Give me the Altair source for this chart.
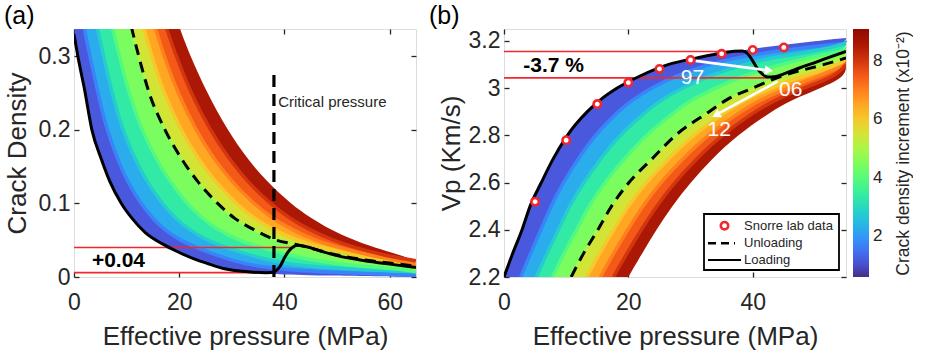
import altair as alt
import pandas as pd

FONT = "Liberation Sans"
INK = "#262626"
RED = "#f0282d"

# ---------------- colour values of the model-curve family (x10^-2) ----------------
CURVE_V = [0.6, 1.7, 2.8, 3.9, 5.0, 6.0, 7.0, 8.0, 9.1]
BAND_V = [1.15, 2.25, 3.35, 4.45, 5.5, 6.5, 7.5, 8.55]
CBAR_TICKS = [2, 4, 6, 8]

# ---------------- panel (a): crack density levels and curve pressures (MPa) ----------------
A_LEVELS = [0.34, 0.3, 0.25, 0.2, 0.16, 0.13, 0.1, 0.08, 0.065, 0.05, 0.04, 0.03,
            0.022, 0.016, 0.011, 0.007, 0.004, 0.002, 0.0]
A_P_V06 = [0, 0.7, 2.1, 3.4, 5.2, 6.8, 9.0, 11.0, 12.8, 15.5, 18.2, 21.0, 24.0, 26.3, 28.6, 32.5, 38, 46, 65]
A_P_V17 = [1.9, 3.0, 4.55, 6.2, 8.3, 10.1, 12.7, 14.9, 17.0, 20.1, 23.4, 26.8, 30.5, 33.7, 39, 46, 60, 65, 65]
A_P_V28 = [4.4, 5.6, 7.2, 9.2, 11.6, 13.8, 16.7, 19.2, 21.7, 25.2, 29.0, 33.2, 37.7, 41.9, 51, 65, 65, 65, 65]
A_P_V39 = [7.3, 8.6, 10.4, 12.85, 15.6, 18.2, 21.4, 24.3, 27.2, 31.1, 35.7, 40.7, 46.1, 51.6, 62, 65, 65, 65, 65]
A_P_V50 = [10.9, 12.3, 14.3, 17.3, 20.5, 23.5, 27.3, 30.5, 34.0, 38.5, 44.0, 50.0, 56.5, 63.5, 65, 65, 65, 65, 65]
A_P_V60 = [13.2, 14.75, 17.05, 20.25, 23.6, 26.8, 30.75, 34.1, 37.65, 42.2, 47.25, 53.0, 59.5, 65, 65, 65, 65, 65, 65]
A_P_V70 = [15.4, 17.1, 19.7, 23.1, 26.6, 29.9, 34.1, 37.6, 41.2, 45.7, 50.4, 55.9, 62.0, 65, 65, 65, 65, 65, 65]
A_P_V80 = [17.5, 19.4, 22.2, 25.8, 29.5, 32.9, 37.2, 40.9, 44.5, 49.1, 53.4, 58.6, 65, 65, 65, 65, 65, 65, 65]
A_P_V91 = [20.0, 22.1, 25.3, 29.1, 33.0, 36.6, 41.1, 45.0, 48.6, 53.2, 57.0, 62.0, 65, 65, 65, 65, 65, 65, 65]

A_LOAD_P = [0, 1, 2, 3.4, 5.2, 6.8, 9, 11, 13.6, 16.8, 19.5, 22.7, 25.5, 28.2, 31.5, 34, 36.5, 37.5,
            38.3, 39.2, 40, 40.8, 41.7, 42.5, 44, 47, 50, 55, 60, 65]
A_LOAD_C = [0.33, 0.29, 0.255, 0.2, 0.16, 0.13, 0.1, 0.08, 0.06, 0.045, 0.035, 0.025, 0.018, 0.012,
            0.008, 0.0065, 0.0058, 0.006, 0.008, 0.015, 0.026, 0.035, 0.041, 0.043, 0.0415, 0.035,
            0.029, 0.0225, 0.0175, 0.013]
A_UNLOAD_P = [10.9, 12.3, 14.3, 17.3, 20.5, 23.5, 27.3, 30.5, 34, 38.5, 42, 44, 50, 56.5, 60, 65]
A_UNLOAD_C = [0.34, 0.3, 0.25, 0.2, 0.16, 0.13, 0.1, 0.08, 0.065, 0.05, 0.0445, 0.041, 0.03, 0.022, 0.019, 0.0145]
A_RED_C = [0.04, 0.0059]
A_RED_P_END = [42, 36.6]
CRIT_P = [38]
CRIT_TOP = [0.28]

# ---------------- panel (b): Vp levels and curve pressures (MPa) ----------------
B_LEVELS = [2.2, 2.3, 2.4, 2.5, 2.6, 2.7, 2.8, 2.9, 2.95, 3.0, 3.05, 3.1, 3.13, 3.16, 3.19, 3.212]
B_P_V06 = [0, 1.4, 2.9, 4.2, 6.0, 7.9, 10.2, 13.4, 15.5, 18.2, 21.8, 26.5, 31.5, 38, 47, 55]
B_P_V17 = [2.7, 4.25, 5.95, 7.5, 9.5, 11.9, 14.55, 18.3, 20.6, 23.65, 27.5, 32.75, 37.6, 44.5, 55, 55]
B_P_V28 = [5.2, 6.9, 8.75, 10.5, 12.8, 15.5, 18.55, 22.8, 25.25, 28.7, 32.75, 38.5, 43.3, 51, 55, 55]
B_P_V39 = [7.8, 9.6, 11.7, 13.6, 16.15, 19.35, 22.7, 27.5, 30.1, 33.9, 38.2, 44.5, 49.1, 55, 55, 55]
B_P_V50 = [10.8, 12.8, 15.1, 17.3, 20.1, 23.8, 27.6, 33.0, 35.8, 40.0, 44.6, 51.5, 55, 55, 55, 55]
B_P_V60 = [13.3, 15.35, 17.65, 19.9, 22.8, 26.4, 30.3, 35.7, 38.65, 43.0, 47.8, 54.5, 55, 55, 55, 55]
B_P_V70 = [15.5, 17.6, 19.9, 22.25, 25.15, 28.7, 32.65, 38.05, 41.15, 45.6, 50.7, 55, 55, 55, 55, 55]
B_P_V80 = [17.6, 19.75, 22.05, 24.5, 27.4, 30.9, 34.9, 40.3, 43.6, 48.1, 53.4, 55, 55, 55, 55, 55]
B_P_V91 = [20.0, 22.2, 24.5, 27.0, 30.0, 33.4, 37.5, 42.9, 46.3, 51.0, 55, 55, 55, 55, 55, 55]

B_LOAD_P = [0, 1.4, 2.9, 4.2, 6.0, 7.9, 10.2, 13.4, 15.5, 18.2, 21.8, 26.5, 31.5, 35, 37, 38.3, 39.2,
            40.0, 40.8, 41.6, 42.4, 43.5, 45, 47.5, 50, 52.5, 55]
B_LOAD_VP = [2.2, 2.3, 2.4, 2.5, 2.6, 2.7, 2.8, 2.9, 2.95, 3.0, 3.05, 3.1, 3.13, 3.148, 3.156, 3.157,
             3.145, 3.115, 3.08, 3.058, 3.047, 3.048, 3.06, 3.085, 3.108, 3.132, 3.155]
B_UNLOAD_P = [10.8, 12.8, 15.1, 17.3, 20.1, 23.8, 27.6, 33.0, 35.8, 40.0, 44.6, 51.5, 55]
B_UNLOAD_VP = [2.2, 2.3, 2.4, 2.5, 2.6, 2.7, 2.8, 2.9, 2.95, 3.0, 3.05, 3.1, 3.127]
SNORRE_P = [5, 10, 15, 20, 25, 30, 35, 40, 45]
SNORRE_VP = [2.519, 2.779, 2.932, 3.023, 3.081, 3.119, 3.145, 3.161, 3.172]
B_RED_VP = [3.155, 3.043]
B_RED_P_END = [38.5, 42.4]
ARROW_P0 = [30.8, 44.0]
ARROW_VP0 = [3.115, 3.028]
ARROW_P1 = [42.6, 34.1]
ARROW_VP1 = [3.074, 2.886]
ARROW_ANGLE = [7.5, 151.6]
YEAR_TEXT = ["97", "06", "12"]
YEAR_P = [30.3, 46.1, 34.6]
YEAR_VP = [3.042, 2.992, 2.823]
LEGEND_LABELS = ["Snorre lab data", "Unloading", "Loading"]

W, H = 342, 248
TICK = 5


def bands_frame(levels, curves):
    rows = []
    for k in range(len(curves) - 1):
        for i, lv in enumerate(levels):
            rows.append({"band": k, "lvl": lv, "p_lo": curves[k][i],
                         "p_hi": curves[k + 1][i], "v": BAND_V[k]})
    return pd.DataFrame(rows)


def curves_frame(levels, curves, pmax):
    # inner model curves as lines; stop each one where it leaves the plot on the right
    rows = []
    for k in range(1, len(curves) - 1):
        for i, lv in enumerate(levels):
            rows.append({"curve": k, "lvl": lv, "p": curves[k][i], "v": CURVE_V[k]})
            if curves[k][i] >= pmax:
                break
    return pd.DataFrame(rows)


def axis(orient, values, title=None, labels=True, tpad=8):
    kw = dict(orient=orient, values=values, labels=labels, domain=False, grid=False,
              ticks=True, tickSize=TICK, tickWidth=1.3, tickColor=INK, offset=-TICK,
              labelFont=FONT, labelFontSize=23, labelColor=INK, format="~r", labelFlush=False,
              titleFont=FONT, titleFontSize=26, titleFontWeight="normal", titleColor=INK)
    if orient == "bottom":
        kw.update(labelPadding=14, titlePadding=9)
    if orient == "left":
        kw.update(labelPadding=4, titlePadding=tpad)
    kw["title"] = title
    return alt.Axis(**kw)


TURBO = alt.SchemeParams(name="turbo", extent=[0.04, 1.0])
fill_scale = alt.Scale(scheme=TURBO, domain=[0.6, 9.1])
# the curve strokes use their own scale (a hair wider domain) so they never join the colour bar legend
stroke_scale = alt.Scale(scheme=TURBO, domain=[0.59999, 9.1])

color_enc = alt.Color(
    "v:Q",
    scale=fill_scale,
    legend=alt.Legend(type="gradient", orient="none", legendX=779, legendY=0, padding=0,
                      direction="vertical", gradientLength=248, gradientThickness=16, title=None,
                      values=CBAR_TICKS, labelFont=FONT, labelFontSize=17,
                      labelColor=INK, labelOffset=4, gradientStrokeWidth=0),
)


def panel(levels, curves, xdom, ydom, xvals, yvals, xtitle, ytitle, tpad):
    xs = alt.Scale(domain=xdom, nice=False, zero=False)
    ys = alt.Scale(domain=ydom, nice=False, zero=False)
    bands = alt.Chart(bands_frame(levels, curves)).mark_area(
        orient="horizontal", interpolate="basis", clip=True, opacity=1).encode(
        y=alt.Y("lvl:Q", scale=ys, axis=axis("left", yvals, ytitle, tpad=tpad)),
        x=alt.X("p_lo:Q", stack=None, scale=xs, axis=axis("bottom", xvals, xtitle)),
        x2="p_hi:Q",
        color=color_enc,
        detail="band:N",
    )
    lines = alt.Chart(curves_frame(levels, curves, xdom[1])).mark_line(
        interpolate="basis", clip=True, strokeWidth=3.5).encode(
        y=alt.Y("lvl:Q", scale=ys, axis=None),
        x=alt.X("p:Q", scale=xs, axis=None),
        stroke=alt.Stroke("v:Q", scale=stroke_scale, legend=None),
        detail="curve:N",
        order="lvl:Q",
    )
    frame = alt.Chart(pd.DataFrame({"x": [xdom[0]], "y": [ydom[0]]})).mark_point(opacity=0).encode(
        x=alt.X("x:Q", scale=xs, axis=axis("top", xvals, None, labels=False)),
        y=alt.Y("y:Q", scale=ys, axis=axis("right", yvals, None, labels=False)),
    )
    return bands, lines, frame, xs, ys


one = alt.Data(values=[{"k": 0}])


def panel_tag(txt, dx):
    return alt.Chart(one).mark_text(text=txt, align="left", baseline="middle", font=FONT,
                                    fontSize=25, color="black").encode(
        x=alt.value(dx), y=alt.value(-13))


# ---------------- panel (a) ----------------
A_CURVES = [A_P_V06, A_P_V17, A_P_V28, A_P_V39, A_P_V50, A_P_V60, A_P_V70, A_P_V80, A_P_V91]
a_bands, a_lines, a_frame, axs, ays = panel(
    A_LEVELS, A_CURVES, [0, 65], [0, 0.337], [0, 20, 40, 60], [0, 0.1, 0.2, 0.3],
    "Effective pressure (MPa)", "Crack Density", 8)

a_load = alt.Chart(pd.DataFrame({"p": A_LOAD_P, "c": A_LOAD_C, "i": range(len(A_LOAD_P))})).mark_line(
    color="black", strokeWidth=3, clip=True, interpolate="monotone").encode(
    x=alt.X("p:Q", scale=axs, axis=None), y=alt.Y("c:Q", scale=ays, axis=None), order="i:Q")
a_unload = alt.Chart(pd.DataFrame({"p": A_UNLOAD_P, "c": A_UNLOAD_C})).mark_line(
    color="black", strokeWidth=3, strokeDash=[11, 7], clip=True, interpolate="monotone").encode(
    x=alt.X("p:Q", scale=axs, axis=None), y=alt.Y("c:Q", scale=ays, axis=None))
a_red = alt.Chart(pd.DataFrame({"c": A_RED_C, "p0": [0, 0], "p1": A_RED_P_END})).mark_rule(
    color=RED, strokeWidth=1.6).encode(
    x=alt.X("p0:Q", scale=axs, axis=None), x2="p1:Q", y=alt.Y("c:Q", scale=ays, axis=None))
a_crit = alt.Chart(pd.DataFrame({"p": CRIT_P, "c0": [0], "c1": CRIT_TOP})).mark_rule(
    color="black", strokeWidth=3.2, strokeDash=[12, 7]).encode(
    x=alt.X("p:Q", scale=axs, axis=None), y=alt.Y("c0:Q", scale=ays, axis=None), y2="c1:Q")
a_crit_txt = alt.Chart(pd.DataFrame({"p": [38.8], "c": [0.238], "t": ["Critical pressure"]})).mark_text(
    align="left", baseline="middle", font=FONT, fontSize=15, color=INK).encode(
    x=alt.X("p:Q", scale=axs, axis=None), y=alt.Y("c:Q", scale=ays, axis=None), text="t:N")
a_delta = alt.Chart(pd.DataFrame({"p": [3.4], "c": [0.0218], "t": ["+0.04"]})).mark_text(
    align="left", baseline="middle", font=FONT, fontSize=21, fontWeight="bold", color="black").encode(
    x=alt.X("p:Q", scale=axs, axis=None), y=alt.Y("c:Q", scale=ays, axis=None), text="t:N")

panel_a = alt.layer(a_bands, a_lines, a_red, a_load, a_unload, a_crit, a_crit_txt, a_delta, a_frame,
                    panel_tag("(a)", -70)).resolve_axis(
    x="independent", y="independent").properties(width=W, height=H)

# ---------------- panel (b) ----------------
B_CURVES = [B_P_V06, B_P_V17, B_P_V28, B_P_V39, B_P_V50, B_P_V60, B_P_V70, B_P_V80, B_P_V91]
b_bands, b_lines, b_frame, bxs, bys = panel(
    B_LEVELS, B_CURVES, [0, 55], [2.2, 3.25], [0, 20, 40], [2.2, 2.4, 2.6, 2.8, 3.0, 3.2],
    "Effective pressure (MPa)", "Vp (Km/s)", 4)

b_load = alt.Chart(pd.DataFrame({"p": B_LOAD_P, "vp": B_LOAD_VP, "i": range(len(B_LOAD_P))})).mark_line(
    color="black", strokeWidth=3, clip=True, interpolate="monotone").encode(
    x=alt.X("p:Q", scale=bxs, axis=None), y=alt.Y("vp:Q", scale=bys, axis=None), order="i:Q")
b_unload = alt.Chart(pd.DataFrame({"p": B_UNLOAD_P, "vp": B_UNLOAD_VP})).mark_line(
    color="black", strokeWidth=3, strokeDash=[11, 7], clip=True, interpolate="monotone").encode(
    x=alt.X("p:Q", scale=bxs, axis=None), y=alt.Y("vp:Q", scale=bys, axis=None))
b_red = alt.Chart(pd.DataFrame({"vp": B_RED_VP, "p0": [0, 0], "p1": B_RED_P_END})).mark_rule(
    color=RED, strokeWidth=1.6).encode(
    x=alt.X("p0:Q", scale=bxs, axis=None), x2="p1:Q", y=alt.Y("vp:Q", scale=bys, axis=None))
b_pts = alt.Chart(pd.DataFrame({"p": SNORRE_P, "vp": SNORRE_VP})).mark_point(
    filled=True, fill="white", stroke=RED, strokeWidth=2.6, size=55, opacity=1).encode(
    x=alt.X("p:Q", scale=bxs, axis=None), y=alt.Y("vp:Q", scale=bys, axis=None))
arrows_df = pd.DataFrame({"p0": ARROW_P0, "vp0": ARROW_VP0, "p1": ARROW_P1, "vp1": ARROW_VP1,
                          "ang": ARROW_ANGLE})
b_arrow_line = alt.Chart(arrows_df).mark_rule(color="white", strokeWidth=2.6).encode(
    x=alt.X("p0:Q", scale=bxs, axis=None), y=alt.Y("vp0:Q", scale=bys, axis=None), x2="p1:Q", y2="vp1:Q")
b_arrow_head = alt.Chart(arrows_df).mark_point(shape="triangle-right", filled=True, color="white",
                                               size=90, opacity=1).encode(
    x=alt.X("p1:Q", scale=bxs, axis=None), y=alt.Y("vp1:Q", scale=bys, axis=None),
    angle=alt.Angle("ang:Q", scale=None))
b_years = alt.Chart(pd.DataFrame({"p": YEAR_P, "vp": YEAR_VP, "t": YEAR_TEXT})).mark_text(
    font=FONT, fontSize=21, color="white", align="center", baseline="middle").encode(
    x=alt.X("p:Q", scale=bxs, axis=None), y=alt.Y("vp:Q", scale=bys, axis=None), text="t:N")
b_delta = alt.Chart(pd.DataFrame({"p": [3.1], "vp": [3.094], "t": ["-3.7 %"]})).mark_text(
    align="left", baseline="middle", font=FONT, fontSize=21, fontWeight="bold", color="black").encode(
    x=alt.X("p:Q", scale=bxs, axis=None), y=alt.Y("vp:Q", scale=bys, axis=None), text="t:N")

leg_box = alt.Chart(one).mark_rect(fill="white", stroke="black", strokeWidth=1.8).encode(
    x=alt.value(200), x2=alt.value(335), y=alt.value(185), y2=alt.value(241))
leg_pt = alt.Chart(one).mark_point(filled=True, fill="white", stroke=RED, strokeWidth=2.6,
                                   size=55, opacity=1).encode(x=alt.value(220.5), y=alt.value(196.7))
leg_dash = alt.Chart(one).mark_rule(color="black", strokeWidth=2.6, strokeDash=[8, 5]).encode(
    x=alt.value(204), x2=alt.value(231), y=alt.value(214.3))
leg_solid = alt.Chart(one).mark_rule(color="black", strokeWidth=2.2).encode(
    x=alt.value(204), x2=alt.value(237), y=alt.value(231))
leg_txt = alt.layer(*[
    alt.Chart(one).mark_text(text=lab, align="left", baseline="middle", font=FONT, fontSize=13,
                             color=INK).encode(x=alt.value(240), y=alt.value(yy))
    for lab, yy in zip(LEGEND_LABELS, [196.7, 214.3, 231])
])
cbar_title = alt.Chart(one).mark_text(text="Crack density increment (x10⁻²)", angle=270, align="center",
                                      baseline="middle", font=FONT, fontSize=17.5, color=INK).encode(
    x=alt.value(400), y=alt.value(124.5))

panel_b = alt.layer(b_bands, b_lines, b_red, b_unload, b_load, b_arrow_line, b_arrow_head, b_years,
                    b_pts, b_delta, leg_box, leg_pt, leg_dash, leg_solid, leg_txt, cbar_title, b_frame,
                    panel_tag("(b)", -75)).resolve_axis(
    x="independent", y="independent").properties(width=W, height=H)

chart = alt.hconcat(panel_a, panel_b, spacing=10).configure_view(
    stroke=INK, strokeWidth=1.4).configure(
    font=FONT, padding={"left": 3, "top": 3, "right": 0, "bottom": 0}, background="white")

chart.save("out.html", embed_options={"renderer": "svg", "actions": False})
